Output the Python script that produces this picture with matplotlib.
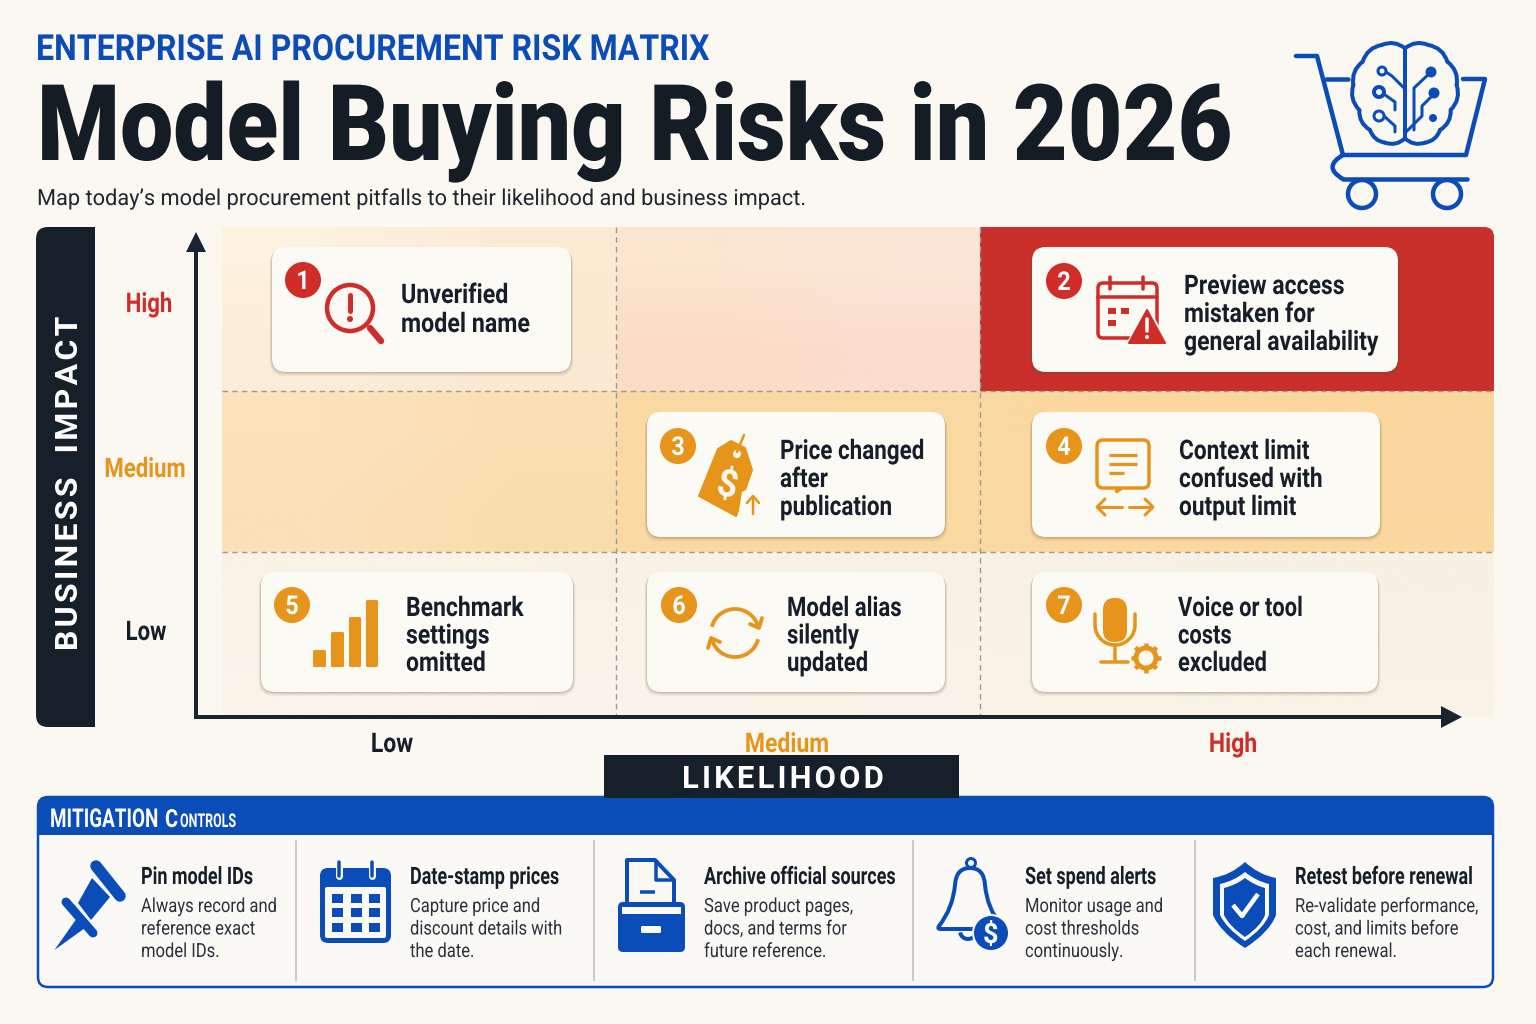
import numpy as np
import matplotlib
matplotlib.use('Agg')
import matplotlib.pyplot as plt
from matplotlib.patches import FancyBboxPatch, Circle, Polygon, PathPatch, Rectangle
from matplotlib.path import Path
from matplotlib.patheffects import AbstractPathEffect
from matplotlib.transforms import Affine2D

# Text content
kicker = 'ENTERPRISE AI PROCUREMENT RISK MATRIX'
title = 'Model Buying Risks in 2026'
subtitle = 'Map today\u2019s model procurement pitfalls to their likelihood and business impact.'
impact_levels = ['High', 'Medium', 'Low']
likelihood_levels = ['Low', 'Medium', 'High']
risk_numbers = ['1', '2', '3', '4', '5', '6', '7']
risk_labels = [
    ['Unverified', 'model name'],
    ['Preview access', 'mistaken for', 'general availability'],
    ['Price changed', 'after', 'publication'],
    ['Context limit', 'confused with', 'output limit'],
    ['Benchmark', 'settings', 'omitted'],
    ['Model alias', 'silently', 'updated'],
    ['Voice or tool', 'costs', 'excluded'],
]
control_titles = ['Pin model IDs', 'Date-stamp prices', 'Archive official sources',
                  'Set spend alerts', 'Retest before renewal']
control_bodies = [
    ['Always record and', 'reference exact', 'model IDs.'],
    ['Capture price and', 'discount details with', 'the date.'],
    ['Save product pages,', 'docs, and terms for', 'future reference.'],
    ['Monitor usage and', 'cost thresholds', 'continuously.'],
    ['Re-validate performance,', 'cost, and limits before', 'each renewal.'],
]

# Colours
BG = '#FBF8F2'
INK = '#161E29'
BLUE = '#0B4DB8'
RED = '#D02C28'
ORANGE = '#E6951A'
CARD = '#FCFAF5'
SANS = ['Roboto', 'DejaVu Sans']

fig = plt.figure(figsize=(15.36, 10.24), dpi=100, facecolor=BG)
ax = fig.add_axes([0, 0, 1, 1])
ax.set_xlim(0, 1536)
ax.set_ylim(1024, 0)
ax.axis('off')


def px(v):
    return v * 0.72


class Squeeze(AbstractPathEffect):
    # narrows the glyphs about x0, there is no condensed font installed
    def __init__(self, sx, x0):
        super().__init__()
        self.sx, self.x0 = sx, x0

    def draw_path(self, renderer, gc, tpath, affine, rgbFace=None):
        aff = affine + Affine2D().translate(-self.x0, 0).scale(self.sx, 1).translate(self.x0, 0)
        renderer.draw_path(gc, tpath, aff, rgbFace)


def put(x, y, s, size, color=INK, weight='bold', family=SANS, ha='left', sx=1, width=None, **kw):
    t = ax.text(x, y, s, fontsize=px(size), color=color, fontweight=weight, family=family,
                ha=ha, va='baseline', zorder=kw.pop('zorder', 20), **kw)
    if width:
        sx = width / t.get_window_extent(fig.canvas.get_renderer()).width
    if sx != 1:
        t.set_path_effects([Squeeze(sx, x)])
    return t


def line(pts, color, lw, z=10, cap='round', **kw):
    pts = np.array(pts)
    ax.plot(pts[:, 0], pts[:, 1], color=color, lw=px(lw), solid_capstyle=cap,
            solid_joinstyle='round', zorder=z, **kw)


def rrect(x0, y0, x1, y1, r, fc, ec='none', lw=0, z=5, alpha=None):
    p = FancyBboxPatch((x0, y0), x1 - x0, y1 - y0, boxstyle=f'round,pad=0,rounding_size={r}',
                       fc=fc, ec=ec, lw=px(lw), zorder=z, alpha=alpha)
    ax.add_patch(p)
    return p


def poly(pts, fc, z=10, ec='none', lw=0):
    ax.add_patch(Polygon(pts, closed=True, fc=fc, ec=ec, lw=px(lw), zorder=z, joinstyle='round'))


def circ(x, y, r, fc='none', ec='none', lw=0, z=10):
    ax.add_patch(Circle((x, y), r, fc=fc, ec=ec, lw=px(lw), zorder=z))


def arc(x, y, r, a0, a1, color, lw, z=10):
    t = np.radians(np.linspace(a0, a1, 40))
    line(np.c_[x + r * np.cos(t), y + r * np.sin(t)], color, lw, z, cap='butt')


def curve(pts, color, lw, z=10):
    codes = [Path.MOVETO] + [Path.CURVE3] * (len(pts) - 1)
    ax.add_patch(PathPatch(Path(pts, codes), fc='none', ec=color, lw=px(lw), zorder=z,
                           capstyle='round', joinstyle='round'))


def scallop(pts, color, lw, bulge=0.3, z=12):
    # brain lobes, points are given for the left half and mirrored
    cx = 405
    for a, b in zip(pts[:-1], pts[1:]):
        a, b = np.array(a, float), np.array(b, float)
        d = b - a
        ctrl = (a + b) / 2 + np.array([-d[1], d[0]]) * bulge
        for sgn in (1, -1):
            tr = lambda p: (1405 + sgn * (p[0] - cx) / 3, 20 + p[1] / 3)
            curve([tr(a), tr(ctrl), tr(b)], color, lw, z)


def gradient(x0, x1, y0, y1, corners):
    arr = np.array([[matplotlib.colors.to_rgb(c) for c in row] for row in corners])
    return ax.imshow(arr, extent=(x0, x1, y1, y0), interpolation='bilinear', aspect='auto', zorder=1)


def card(x0, y0, x1, y1):
    for off, a in ((7, 0.05), (5, 0.07), (3, 0.10), (1.5, 0.14)):
        rrect(x0 - off * 0.35, y0 + off * 0.3, x1 + off * 0.35, y1 + off * 0.6, 15, '#5a4a30', z=4, alpha=a)
    rrect(x0, y0, x1, y1, 14, CARD, z=5)


def badge(x, y, n, color):
    circ(x, y, 18, fc=color, z=8)
    put(x, y + 9, n, 26, color='white', ha='center', sx=0.9)


# ---- matrix background ----
gradient(222, 616, 227, 391, [['#FDF1DF', '#FCEBD3'], ['#FBEDD9', '#FBE9D2']])
gradient(616, 980, 227, 391, [['#FCE5CF', '#FBE5D6'], ['#FBDDC4', '#FBDDD0']])
top_red = rrect(960, 227, 1494, 420, 10, '#C9302B', z=1)
top_red.set_clip_path(Rectangle((980, 227), 514, 164, transform=ax.transData))
gradient(222, 616, 391, 552, [['#FBE3BC', '#FBDFB2'], ['#FBE1B8', '#FADDAE']])
gradient(616, 1494, 391, 552, [['#FAD9A3', '#FAD79E'], ['#FBD9A3', '#FAD89F']])
gradient(222, 1494, 552, 717, [['#F9F2E6', '#F8F0E4'], ['#FAF4EA', '#F9F2E7']])
ax.set_xlim(0, 1536)
ax.set_ylim(1024, 0)
for x in (616, 980):
    ax.plot([x, x], [227, 717], color='#9A9A96', lw=1, ls=(0, (4, 3)), zorder=2)
for y in (391, 552):
    ax.plot([222, 1494], [y, y], color='#9A9A96', lw=1, ls=(0, (4, 3)), zorder=2)

# ---- header ----
put(36, 60, kicker, 36, color=BLUE, width=674)
put(37, 160, title, 106, weight=900, width=1196, color='#141C26')
put(37, 205, subtitle, 22, weight='normal', width=770, color='#1E2630')

# cart with brain
cw = 4.5
line([(1296, 56), (1317, 56), (1343, 155), (1466, 155), (1485, 79), (1463, 79)], BLUE, cw)
line([(1326, 79), (1348, 79)], BLUE, cw)
curve([(1343, 155), (1322, 167), (1343, 179)], BLUE, cw)
line([(1343, 179), (1467, 179)], BLUE, cw)
circ(1362, 194, 14, ec=BLUE, lw=cw, fc=BG)
circ(1447, 194, 14, ec=BLUE, lw=cw, fc=BG)
circ(1405, 93, 50, fc=BG, z=9)
lobe = [(405, 85), (335, 75), (278, 125), (250, 195), (268, 270), (300, 330), (345, 368), (405, 355)]
scallop(lobe, BLUE, 4)
line([(1405, 48), (1405, 137)], BLUE, 4, z=12)
# circuit traces
line([(1404, 88), (1392, 76), (1383, 70)], BLUE, 3, z=12)
circ(1382, 71, 4, fc=BG, ec=BLUE, lw=3, z=13)
line([(1395, 110), (1395, 102), (1381, 92)], BLUE, 3, z=12)
circ(1379, 92, 5, fc=BG, ec=BLUE, lw=4, z=13)
line([(1395, 132), (1395, 126), (1384, 116)], BLUE, 3, z=12)
circ(1379, 116, 5, fc=BG, ec=BLUE, lw=3, z=13)
line([(1414, 130), (1414, 88), (1431, 72)], BLUE, 3, z=12)
circ(1431, 72, 5.5, fc=BLUE, z=13)
line([(1406, 132), (1422, 116), (1422, 106), (1434, 94)], BLUE, 3, z=12)
circ(1434, 93, 5.5, fc=BLUE, z=13)
circ(1433, 118, 4, fc=BLUE, z=13)

# ---- axes ----
rrect(36, 227, 110, 727, 12, '#15202B', z=6)
ax.add_patch(Rectangle((95, 220), 20, 515, fc=BG, ec='none', zorder=6))
put(78, 483, '\u200a'.join('BUSINESS') + '   ' + '\u200a'.join('IMPACT'), 32, color='white',
    ha='center', rotation=90, rotation_mode='anchor', zorder=21)
line([(196, 717), (196, 246)], '#1A2430', 4, z=7, cap='butt')
line([(194, 717), (1444, 717)], '#1A2430', 4, z=7, cap='butt')
poly([(196, 232), (186, 252), (206, 252)], '#1A2430', z=7)
poly([(1462, 717), (1441, 706), (1441, 728)], '#1A2430', z=7)
level_colors = [RED, ORANGE, INK]
for name, col, x, y in zip(impact_levels, level_colors, (149, 145, 146), (312, 477, 640)):
    put(x, y, name, 27, color=col, ha='center', sx=0.82)
for name, col, x in zip(likelihood_levels, [INK, ORANGE, RED], (392, 787, 1233)):
    put(x, 752, name, 27, color=col, ha='center', sx=0.85)
ax.add_patch(Rectangle((604, 755), 355, 43, fc='#15202B', ec='none', zorder=6))
put(783, 788, '\u200a'.join('LIKELIHOOD'), 31, color='white', ha='center')

# ---- cards ----
boxes = [(272, 247, 571, 372), (1032, 247, 1398, 372), (647, 412, 945, 537), (1032, 412, 1380, 537),
         (261, 572, 573, 692), (647, 572, 945, 692), (1032, 572, 1378, 692)]
badges = [(303, 280), (1064, 281), (678, 446), (1064, 446), (292, 605), (679, 605), (1064, 605)]
text_x = [401, 1184, 780, 1179, 406, 787, 1178]
first_base = [303, 294, 459, 459, 616, 616, 616]
line_gap = [29, 28, 28, 28, 27.5, 27.5, 27.5]
card_squeeze = [0.86, 0.85, 0.83, 0.84, 0.85, 0.82, 0.81]
card_colors = [RED, RED, ORANGE, ORANGE, ORANGE, ORANGE, ORANGE]
for i in range(7):
    card(*boxes[i])
    badge(*badges[i], risk_numbers[i], card_colors[i])
    for j, s in enumerate(risk_labels[i]):
        put(text_x[i], first_base[i] + j * line_gap[i], s, 27, sx=card_squeeze[i])

# icon 1: magnifier
circ(350, 308, 23, ec=RED, lw=4.5, fc=CARD)
line([(370, 328), (381, 341)], RED, 6.5)
line([(350, 295), (350, 311)], RED, 5)
circ(350, 319, 3, fc=RED)

# icon 2: calendar with warning
rrect(1098, 283, 1157, 338, 5, 'none', ec=RED, lw=3.5, z=9)
line([(1098, 297), (1157, 297)], RED, 3.5)
line([(1110, 277), (1110, 289)], RED, 3.5)
line([(1143, 277), (1143, 289)], RED, 3.5)
for (x, y, w) in ((1108, 308, 8), (1121, 308, 8), (1108, 320, 8)):
    ax.add_patch(Rectangle((x, y), w, 6, fc=RED, ec='none', zorder=10))
poly([(1147, 304), (1125, 346), (1170, 346)], CARD, z=11)
poly([(1147, 310), (1129, 343), (1165, 343)], RED, z=12, ec=RED, lw=2)
line([(1147, 319), (1147, 331)], 'white', 3.5, z=13)
circ(1147, 337, 2, fc='white', z=13)

# icon 3: price tag
poly([(699, 496), (718, 449), (731, 441), (745, 448), (752, 470), (736, 516)], ORANGE, ec=ORANGE, lw=2)
circ(737, 454, 4, fc=CARD, z=11)
line([(737, 452), (744, 435)], ORANGE, 2.5, z=12)
put(726, 498, '$', 36, color=CARD, ha='center', rotation=-12, zorder=13)
poly([(738, 516), (742, 492), (750, 488), (765, 516)], CARD, z=11)
line([(753, 514), (753, 497)], ORANGE, 2.5, z=12)
line([(747, 503), (753, 496), (759, 503)], ORANGE, 2.5, z=12)

# icon 4: chat with arrows
ax.add_patch(PathPatch(Path(
    [(1103, 440), (1143, 440), (1149, 440), (1149, 446), (1149, 482), (1149, 488), (1143, 488), (1122, 488),
     (1116, 492), (1116, 492), (1118, 488), (1103, 488), (1097, 488), (1097, 482), (1097, 446), (1097, 440), (1103, 440)],
    [Path.MOVETO, Path.LINETO, Path.CURVE3, Path.CURVE3, Path.LINETO, Path.CURVE3, Path.CURVE3, Path.LINETO,
     Path.LINETO, Path.LINETO, Path.LINETO, Path.LINETO, Path.CURVE3, Path.CURVE3, Path.LINETO, Path.CURVE3, Path.CURVE3]),
    fc='none', ec=ORANGE, lw=px(3.5), zorder=10))
for y, x1 in ((455, 1137), (464, 1137), (473, 1124)):
    line([(1109, y), (x1, y)], ORANGE, 3.2, cap='butt')
line([(1098, 507), (1122, 507)], ORANGE, 3)
line([(1105, 499), (1097, 507), (1105, 515)], ORANGE, 3)
line([(1129, 507), (1152, 507)], ORANGE, 3)
line([(1145, 499), (1153, 507), (1145, 515)], ORANGE, 3)

# icon 5: bars
for x0, x1, top in ((313, 326, 650), (331, 344, 632), (349, 361, 617), (366, 378, 600)):
    rrect(x0, top, x1, 667, 1.5, ORANGE, z=10)

# icon 6: refresh arrows
arc(735, 633, 24, 195, 345, ORANGE, 3.8)
arc(735, 633, 24, 15, 165, ORANGE, 3.8)
line([(750, 624), (759, 628), (762, 618)], ORANGE, 3.8)
line([(720, 642), (711, 638), (708, 648)], ORANGE, 3.8)

# icon 7: microphone and gear
rrect(1103, 598, 1127, 642, 11.5, ORANGE, z=10)
arc(1115, 625, 20, 0, 180, ORANGE, 3.5)
line([(1095, 614), (1095, 625)], ORANGE, 3.5)
line([(1135, 614), (1135, 625)], ORANGE, 3.5)
line([(1115, 645), (1115, 661)], ORANGE, 3.5)
line([(1101, 662), (1128, 662)], ORANGE, 3.5)
circ(1146, 658, 10, ec=ORANGE, lw=5, fc=CARD)
for a in np.arange(0, 360, 45):
    c, s = np.cos(np.radians(a)), np.sin(np.radians(a))
    line([(1146 + 10 * c, 658 + 10 * s), (1146 + 15 * c, 658 + 15 * s)], ORANGE, 4.5, cap='butt')

# ---- mitigation panel ----
rrect(38, 797, 1493, 987, 10, '#FBF9F5', ec=BLUE, lw=2.5, z=3)
band = rrect(38, 797, 1493, 860, 10, BLUE, z=3)
band.set_clip_path(Rectangle((30, 790), 1470, 45, transform=ax.transData))
# small caps heading, anchored so that the three pieces stay apart
put(158, 827, 'MITIGATION', 26, color='white', ha='right', width=108)
put(171.5, 827, 'C', 25, color='white', ha='center', sx=0.8)
put(180, 827, 'ONTROLS', 19, color='white', width=56)
for x in (296, 594, 913, 1195):
    ax.plot([x, x], [841, 980], color='#CBCBC6', lw=1.4, zorder=4)
title_x = [141, 410, 704, 1025, 1295]
for x, t, body in zip(title_x, control_titles, control_bodies):
    put(x, 884, t, 24, sx=0.75)
    for j, s in enumerate(body):
        put(x, 912 + j * 22.5, s, 19.5, weight='normal', color='#2A313B', sx=0.85)

# pin
line([(96, 866), (120, 896)], BLUE, 11.5)
line([(66, 902), (93, 933)], BLUE, 9)
poly([(92, 878), (110, 897), (91, 920), (78, 903)], BLUE)
poly([(54.5, 950), (77, 918), (85, 928)], BLUE)

# calendar
rrect(320, 868, 391, 943, 8, BLUE, z=9)
rrect(325, 887, 386, 938, 2, CARD, z=10)
for cx in (337, 356, 374):
    for cy in (898, 912, 927):
        ax.add_patch(Rectangle((cx - 5.5, cy - 4.5), 11, 9, fc=BLUE, ec='none', zorder=11))
for cx in (339, 372):
    line([(cx, 862), (cx, 876)], CARD, 7, z=11)
    line([(cx, 862), (cx, 876)], BLUE, 3.5, z=12)

# file box
poly([(627, 905), (627, 860), (655, 860), (674, 880), (674, 905)], BG, ec=BLUE, lw=4)
line([(656, 861), (656, 880), (673, 880)], BLUE, 3.5)
line([(640, 892), (655, 892)], BLUE, 3.5, cap='butt')
rrect(618, 902, 685, 952, 5, BLUE, z=11)
ax.add_patch(Rectangle((622, 907), 59, 7, fc=CARD, ec='none', zorder=12))
rrect(641, 926, 661, 933, 1.5, CARD, z=12)

# bell
bell = [(970, 868), (956, 868), (955, 885), (953, 908), (939, 926), (937, 929), (941, 929), (1000, 929),
        (1004, 929), (1001, 925), (987, 908), (985, 885), (984, 868), (970, 868)]
ax.add_patch(PathPatch(Path(bell, [Path.MOVETO, Path.CURVE3, Path.CURVE3, Path.CURVE3, Path.CURVE3,
                                   Path.CURVE3, Path.CURVE3, Path.LINETO, Path.CURVE3, Path.CURVE3,
                                   Path.CURVE3, Path.CURVE3, Path.CURVE3, Path.CURVE3]),
                       fc='none', ec=BLUE, lw=px(4), zorder=10))
circ(971, 863, 4.5, ec=BLUE, lw=3, fc=BG)
arc(968, 931, 8, 10, 170, BLUE, 4)
circ(991, 933, 19, fc=BG, z=11)
circ(991, 933, 17, fc=BLUE, z=12)
put(991, 943, '$', 27, color='white', ha='center', zorder=13)

# shield
outer = [(1245, 862), (1231, 875), (1213, 878), (1213, 915), (1220, 932), (1245, 948), (1270, 932),
         (1276, 915), (1276, 878), (1259, 875), (1245, 862)]
inner = [(1245, 872), (1234, 881), (1220, 884), (1220, 915), (1226, 928), (1245, 941), (1264, 928),
         (1269, 915), (1269, 884), (1256, 881), (1245, 872)]
core = [(1245, 878), (1236, 885), (1224, 888), (1224, 915), (1229, 926), (1245, 937), (1261, 926),
        (1265, 915), (1265, 888), (1254, 885), (1245, 878)]
codes = [Path.MOVETO, Path.CURVE3, Path.CURVE3, Path.LINETO, Path.CURVE3, Path.CURVE3, Path.CURVE3,
         Path.CURVE3, Path.LINETO, Path.CURVE3, Path.CURVE3]
for pts, c, z in ((outer, BLUE, 10), (inner, BG, 11), (core, BLUE, 12)):
    ax.add_patch(PathPatch(Path(pts, codes), fc=c, ec='none', zorder=z))
line([(1233, 905), (1242, 916), (1258, 894)], 'white', 4.5, z=13, cap='butt')

fig.savefig('out.png', dpi=100, facecolor=BG)
